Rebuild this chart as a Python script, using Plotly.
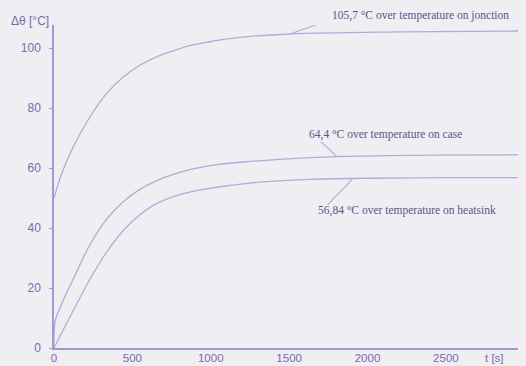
import plotly.graph_objects as go

# ---- data ----
t_junction = [0, 50, 123, 230, 336, 442, 548, 655, 761, 867, 974, 1080, 1186, 1505, 2207, 2960]
junction = [50, 58.3, 67.1, 77.1, 84.9, 90.4, 94.3, 97.1, 99.1, 100.8, 101.9, 102.9, 103.6, 104.7, 105.4, 105.7]

t_case = [0, 8, 60, 123, 230, 336, 442, 548, 655, 761, 867, 1048, 1250, 1462, 1803, 2400, 2960]
case = [0, 9, 16, 23, 34.5, 43, 48.8, 52.9, 55.8, 57.9, 59.5, 61.2, 62.2, 63, 63.8, 64.3, 64.4]

t_heatsink = [0, 123, 230, 336, 442, 548, 655, 825, 1037, 1250, 1462, 1633, 2000, 2500, 2960]
heatsink = [0, 12.5, 23, 32, 39.2, 44.4, 48.2, 51.5, 53.6, 55, 55.8, 56.2, 56.6, 56.8, 56.84]

x_ticks = [0, 500, 1000, 1500, 2000, 2500]
y_ticks = [0, 20, 40, 60, 80, 100]

labels = ["105,7 °C over temperature on jonction",
          "64,4 °C over temperature on case",
          "56,84 °C over temperature on heatsink"]
# leader-line head points on the curves (t, value)
label_heads = [(1505, 104.7), (1805, 63.8), (1905, 56.4)]

BG = "#efeef2"
AXIS = "#a496cf"
CURVE = "#b5a9da"
TICKTXT = "#7a6cab"
NOTE = "#5d5389"

fig = go.Figure()
for tx, ty in [(t_junction, junction), (t_case, case), (t_heatsink, heatsink)]:
    fig.add_trace(go.Scatter(x=tx, y=ty, mode="lines",
                             line=dict(color=CURVE, width=1.3, shape="spline", smoothing=1.0),
                             hoverinfo="skip", showlegend=False))

# leader lines (pixel offsets from the head point) and text offsets
line_offsets = [(37, 13), (-16, 15), (-25, -26)]
text_offsets = [(40, 19), (-30, 22), (-37, -32)]
for (hx, hy), (dx, dy), (tx, ty), txt in zip(label_heads, line_offsets, text_offsets, labels):
    fig.add_shape(type="line", xref="x", yref="y",
                  xsizemode="pixel", ysizemode="pixel",
                  xanchor=hx, yanchor=hy, x0=0, y0=0, x1=dx, y1=dy,
                  line=dict(color=CURVE, width=1.1))
    fig.add_annotation(x=hx, y=hy, xref="x", yref="y", text=txt, showarrow=False,
                       xanchor="left", yanchor="middle", xshift=tx, yshift=ty,
                       font=dict(family="Liberation Serif", size=11.5, color=NOTE))

fig.add_annotation(x=0, y=1, xref="paper", yref="paper", text="Δθ [°C]", showarrow=False,
                   xanchor="center", yanchor="middle", xshift=-24, yshift=4,
                   font=dict(family="Liberation Sans", size=12, color=TICKTXT))
fig.add_annotation(x=2812, y=0, xref="x", yref="paper", text="t [s]", showarrow=False,
                   xanchor="center", yanchor="middle", yshift=-10,
                   font=dict(family="Liberation Sans", size=11.5, color=TICKTXT))

fig.update_layout(
    width=526, height=366,
    margin=dict(l=54, r=8, t=25, b=18, autoexpand=False),
    paper_bgcolor=BG, plot_bgcolor=BG,
    font=dict(family="Liberation Sans", size=12, color=TICKTXT),
)
fig.update_xaxes(range=[0, 2960], tickvals=x_ticks, showgrid=False, zeroline=False,
                 showline=True, linecolor=AXIS, linewidth=1.5, automargin=False,
                 ticks="", ticklabelstandoff=-2,
                 tickfont=dict(family="Liberation Sans", size=11.5, color=TICKTXT))
fig.update_yaxes(range=[0, 107.7], tickvals=y_ticks, showgrid=False, zeroline=False,
                 showline=True, linecolor=AXIS, linewidth=1.5, automargin=False,
                 ticks="outside", ticklen=3, tickcolor=AXIS, ticklabelstandoff=6,
                 tickfont=dict(family="Liberation Sans", size=12, color=TICKTXT))

fig.write_html("out.html")
